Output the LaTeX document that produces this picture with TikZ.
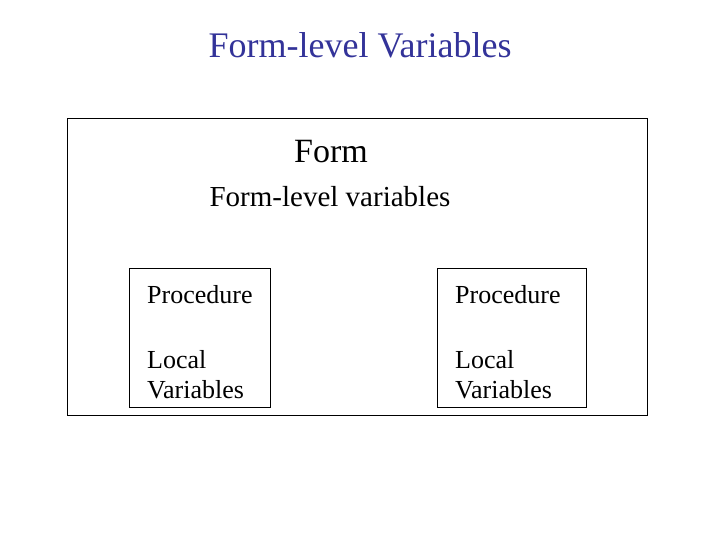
\documentclass[tikz,border=0pt]{standalone}
\usepackage{fontspec}
\setmainfont{Liberation Serif}
\usetikzlibrary{positioning}
\definecolor{titleblue}{RGB}{51,51,153}

\tikzset{
  box/.style={draw, line width=0.9pt, inner sep=0pt, anchor=north west},
  label/.style={inner sep=0pt, anchor=base west, align=left}
}

\begin{document}
\begin{tikzpicture}[x=1pt, y=-1pt]
  \useasboundingbox (0,0) rectangle (720,540);

  \node[inner sep=0pt, anchor=base, text=titleblue, font=\fontsize{36}{40}\selectfont] (title) at (360,58) {Form-level Variables};

  \node[box, minimum width=580pt, minimum height=297pt] (form) at (67,118) {};
  \node[label, anchor=base, font=\fontsize{34}{38}\selectfont] (formname) at (331,163) {Form};
  \node[label, anchor=base, font=\fontsize{29}{33}\selectfont] (formvars) at (330,207) {Form-level variables};

  \node[box, minimum width=141pt, minimum height=139pt] (procA) at (129,268) {};
  \node[box, minimum width=149pt, minimum height=139pt] (procB) at (437,268) {};

  \node[label, font=\fontsize{26}{30}\selectfont] (procAname) at (147,303) {Procedure};
  \node[label, font=\fontsize{26}{30}\selectfont] (procAvars) at (147,398) {Local\\Variables};
  \node[label, font=\fontsize{26}{30}\selectfont] (procBname) at (455,303) {Procedure};
  \node[label, font=\fontsize{26}{30}\selectfont] (procBvars) at (455,398) {Local\\Variables};
\end{tikzpicture}
\end{document}
